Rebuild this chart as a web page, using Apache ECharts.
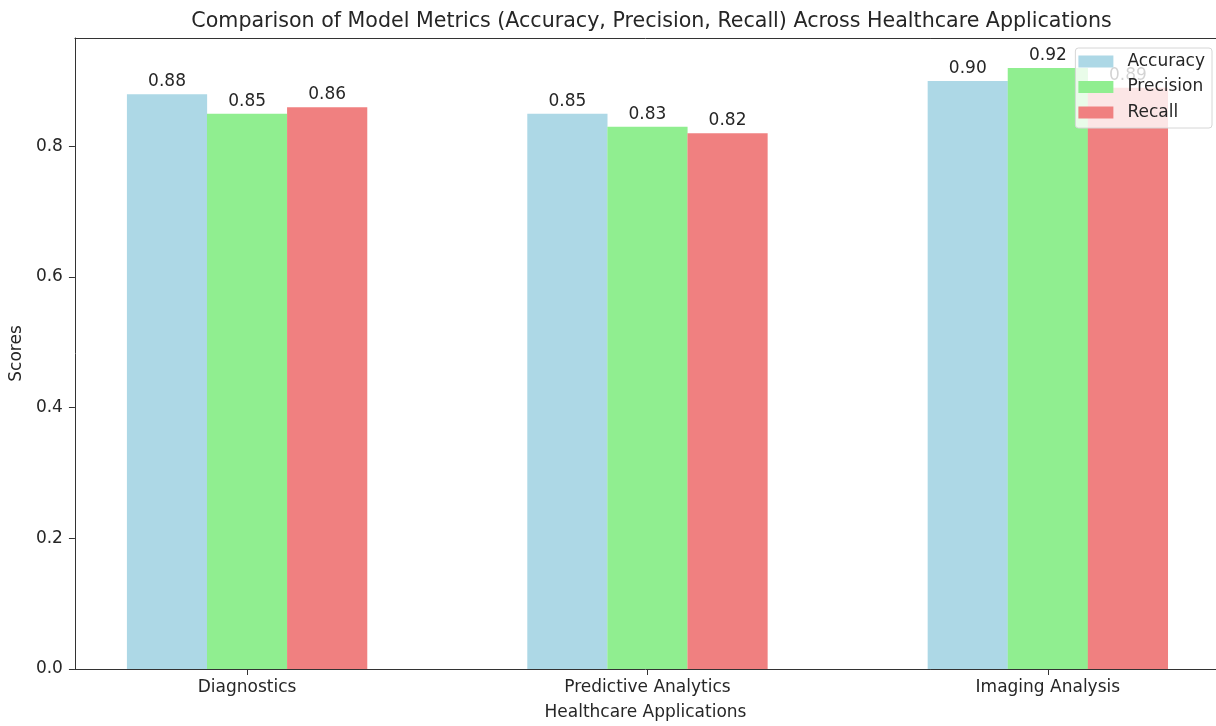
<!DOCTYPE html>
<html>
<head>
<meta charset="utf-8">
<script src="https://cdn.jsdelivr.net/npm/echarts@6/dist/echarts.min.js"></script>
<style>
  html, body { margin: 0; padding: 0; background: #fff; overflow: hidden; }
  #chart { width: 1216px; height: 726px; }
</style>
</head>
<body>
<div id="chart"></div>
<script>
// Healthcare application categories and per-metric scores
const categories = ['Diagnostics', 'Predictive Analytics', 'Imaging Analysis'];
const accuracy = [0.88, 0.85, 0.90];
const precision = [0.85, 0.83, 0.92];
const recall = [0.86, 0.82, 0.89];
const yTicks = [0, 0.2, 0.4, 0.6, 0.8];

const metrics = [
  { name: 'Accuracy', values: accuracy, color: '#ADD8E6' },
  { name: 'Precision', values: precision, color: '#90EE90' },
  { name: 'Recall', values: recall, color: '#F08080' }
];

// Grouped bars: each bar is 0.2 category units wide, side by side around the category index
const groupWidth = 0.2;
// visible x range; the plot runs up to the right edge of the canvas
const xMin = -0.43, xMax = 2.42;
const yMax = 0.966;

const FONT = 'DejaVu Sans';
const TEXT = '#262626';
const AXIS = '#333';
const FS = 17;

const chartW = 1216;
const gridLeft = 73, gridTop = 38, gridBottom = 53, gridRight = 0;
const plotW = chartW - gridLeft - gridRight;
const barPx = plotW / (xMax - xMin) * groupWidth;
// title is centred on the full axes span (-0.43 .. 2.43)
const titleX = gridLeft + plotW / (xMax - xMin) * (2.43 - (-0.43)) / 2;

const chart = echarts.init(document.getElementById('chart'), null, { renderer: 'canvas' });

const series = metrics.map((m, si) => ({
  name: m.name,
  type: 'bar',
  xAxisIndex: 0,
  barWidth: barPx,
  barGap: '-100%',
  itemStyle: { color: m.color },
  label: {
    show: true,
    position: 'top',
    distance: 4,
    fontFamily: FONT,
    fontSize: FS,
    color: TEXT,
    formatter: p => p.value[1].toFixed(2)
  },
  data: m.values.map((v, ci) => [ci + (si - 1) * groupWidth, v])
}));

chart.setOption({
  animation: false,
  backgroundColor: '#fff',
  title: {
    text: 'Comparison of Model Metrics (Accuracy, Precision, Recall) Across Healthcare Applications',
    left: titleX,
    textAlign: 'center',
    top: 6,
    textStyle: { fontFamily: FONT, fontSize: 20.6, fontWeight: 'normal', color: TEXT }
  },
  legend: {
    orient: 'vertical',
    right: 4,
    top: 48,
    padding: [5, 7, 7, 3],
    itemWidth: 35,
    itemHeight: 12,
    itemGap: 8.5,
    icon: 'rect',
    backgroundColor: 'rgba(255,255,255,0.8)',
    borderColor: '#d6d6d6',
    borderWidth: 1,
    borderRadius: 3,
    textStyle: { fontFamily: FONT, fontSize: FS, color: TEXT, padding: [0, 0, 0, 9], lineHeight: 17 },
    data: metrics.map(m => m.name)
  },
  grid: {
    left: gridLeft, right: gridRight, top: gridTop, bottom: gridBottom,
    show: false
  },
  xAxis: [
    {
      type: 'value',
      position: 'bottom',
      min: xMin,
      max: xMax,
      name: 'Healthcare Applications',
      nameLocation: 'middle',
      nameGap: 35,
      nameTextStyle: { fontFamily: FONT, fontSize: FS, color: TEXT },
      splitLine: { show: false },
      axisLine: { show: true, onZero: false, lineStyle: { color: AXIS, width: 1 } },
      axisTick: { show: true, length: 6, customValues: [0, 1, 2], lineStyle: { color: AXIS } },
      axisLabel: {
        customValues: [0, 1, 2],
        margin: 10,
        fontFamily: FONT, fontSize: FS, color: TEXT,
        formatter: v => categories[Math.round(v)]
      }
    },
    {
      // top spine of the axes frame
      type: 'value',
      position: 'top',
      min: xMin,
      max: xMax,
      splitLine: { show: false },
      axisLine: { show: true, onZero: false, lineStyle: { color: AXIS, width: 1 } },
      axisTick: { show: false },
      axisLabel: { show: false }
    }
  ],
  yAxis: {
    type: 'value',
    min: 0,
    max: yMax,
    name: 'Scores',
    nameLocation: 'middle',
    nameGap: 46,
    nameTextStyle: { fontFamily: FONT, fontSize: FS, color: TEXT },
    splitLine: { show: false },
    axisLine: { show: true, onZero: false, lineStyle: { color: AXIS, width: 1 } },
    axisTick: { show: true, length: 6, customValues: yTicks, lineStyle: { color: AXIS } },
    axisLabel: {
      customValues: yTicks,
      margin: 12,
      fontFamily: FONT, fontSize: FS, color: TEXT,
      formatter: v => v.toFixed(1)
    }
  },
  series: series
});
</script>
</body>
</html>
